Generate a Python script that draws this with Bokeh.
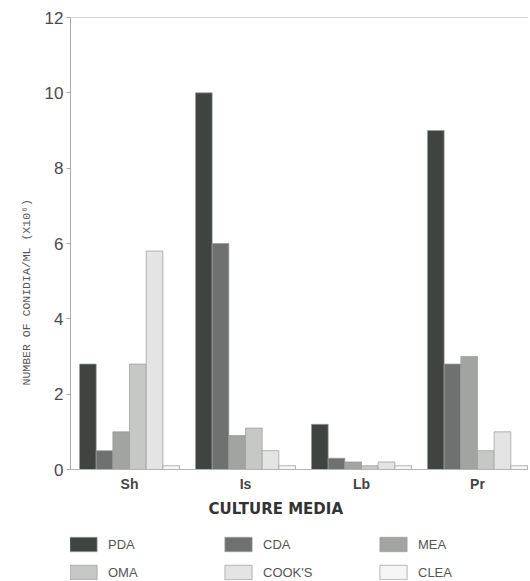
from bokeh.plotting import figure
from bokeh.models import Range1d, FixedTicker, Legend, LegendItem, Span, Title
from bokeh.layouts import column
from bokeh.embed import file_html
from bokeh.resources import INLINE

media = ["Sh", "Is", "Lb", "Pr"]
series = ["PDA", "CDA", "MEA", "OMA", "COOK'S", "CLEA"]
pda = [2.8, 10.0, 1.2, 9.0]
cda = [0.5, 6.0, 0.3, 2.8]
mea = [1.0, 0.9, 0.2, 3.0]
oma = [2.8, 1.1, 0.1, 0.5]
cooks = [5.8, 0.5, 0.2, 1.0]
clea = [0.1, 0.1, 0.1, 0.1]
y_ticks = [0, 2, 4, 6, 8, 10, 12]

values = [pda, cda, mea, oma, cooks, clea]
colors = ["#3f4441", "#6e716f", "#a2a4a2", "#c6c8c6", "#e3e4e3", "#f5f5f5"]
edge = "#9a9a9a"

p = figure(width=528, height=525, output_backend="svg", toolbar_location=None,
           x_range=Range1d(-0.509, 3.44), y_range=Range1d(0, 12),
           min_border_left=70, min_border_top=17, min_border_right=0, min_border_bottom=56)
p.outline_line_color = None
p.background_fill_color = "white"
p.border_fill_color = "white"
p.xgrid.visible = False
p.ygrid.visible = False

bw = 0.1437
xs = list(range(len(media)))
for i, (name, vals, c) in enumerate(zip(series, values, colors)):
    off = (i - 2.5) * bw
    p.vbar(x=[x + off for x in xs], top=vals, width=bw, bottom=0,
           fill_color=c, line_color=edge, line_width=0.7)

p.add_layout(Span(location=12, dimension="width", line_color="#b0b0b0", line_width=1.2))

# y axis
p.yaxis.ticker = FixedTicker(ticks=y_ticks)
p.yaxis.axis_line_color = "#aaaaaa"
p.yaxis.major_tick_line_color = "#aaaaaa"
p.yaxis.major_tick_out = 4
p.yaxis.major_tick_in = 0
p.yaxis.minor_tick_line_color = None
p.yaxis.major_label_text_font = "Liberation Sans"
p.yaxis.major_label_text_font_size = "17px"
p.yaxis.major_label_text_color = "#4a4a4a"
p.yaxis.major_label_standoff = 3
p.add_layout(Title(text="NUMBER OF CONIDIA/ML (X10⁶)", align="left", offset=84,
                   text_font="Liberation Mono", text_font_style="normal",
                   text_font_size="11.5px", text_color="#555555", standoff=17), "left")

# x axis
p.xaxis.ticker = FixedTicker(ticks=xs)
p.xaxis.major_label_overrides = {i: m for i, m in enumerate(media)}
p.xaxis.axis_line_color = "#b5b5b5"
p.xaxis.major_tick_line_color = None
p.xaxis.minor_tick_line_color = None
p.xaxis.major_label_text_font = "Liberation Sans"
p.xaxis.major_label_text_font_style = "bold"
p.xaxis.major_label_text_font_size = "14px"
p.xaxis.major_label_text_color = "#444444"
p.xaxis.major_label_standoff = 0
p.add_layout(Title(text="CULTURE MEDIA", align="left", offset=138,
                   text_font="DejaVu Sans", text_font_style="bold",
                   text_font_size="15px", text_color="#333333", standoff=6), "below")

# legend panel
lg = figure(width=528, height=55, output_backend="svg", toolbar_location=None,
            x_range=Range1d(0, 1), y_range=Range1d(0, 1),
            x_axis_location=None, y_axis_location=None,
            min_border_left=70, min_border_top=10, min_border_right=0, min_border_bottom=0)
lg.outline_line_color = None
lg.xgrid.visible = False
lg.ygrid.visible = False
lg.border_fill_color = "white"
nan = float("nan")
swatch = {}
for name, c in zip(series, colors):
    swatch[name] = lg.vbar(x=[nan], top=[nan], width=0.1, fill_color=c,
                           line_color=edge, line_width=0.7)

# legend is filled column by column: order so rows read PDA CDA MEA / OMA COOK'S CLEA
order = [series[0], series[3], series[1], series[4], series[2], series[5]]
items = [LegendItem(label=n, renderers=[swatch[n]]) for n in order]
legend = Legend(items=items, ncols=3, location=(-4, -1),
                glyph_width=34, glyph_height=18, label_height=18, label_width=103,
                label_standoff=8, spacing=10, margin=0, padding=0,
                border_line_color=None, background_fill_alpha=0,
                label_text_font="Liberation Sans", label_text_font_size="13px",
                label_text_color="#555555")
lg.add_layout(legend, "center")

open("out.html", "w").write(file_html(column(p, lg), INLINE))
